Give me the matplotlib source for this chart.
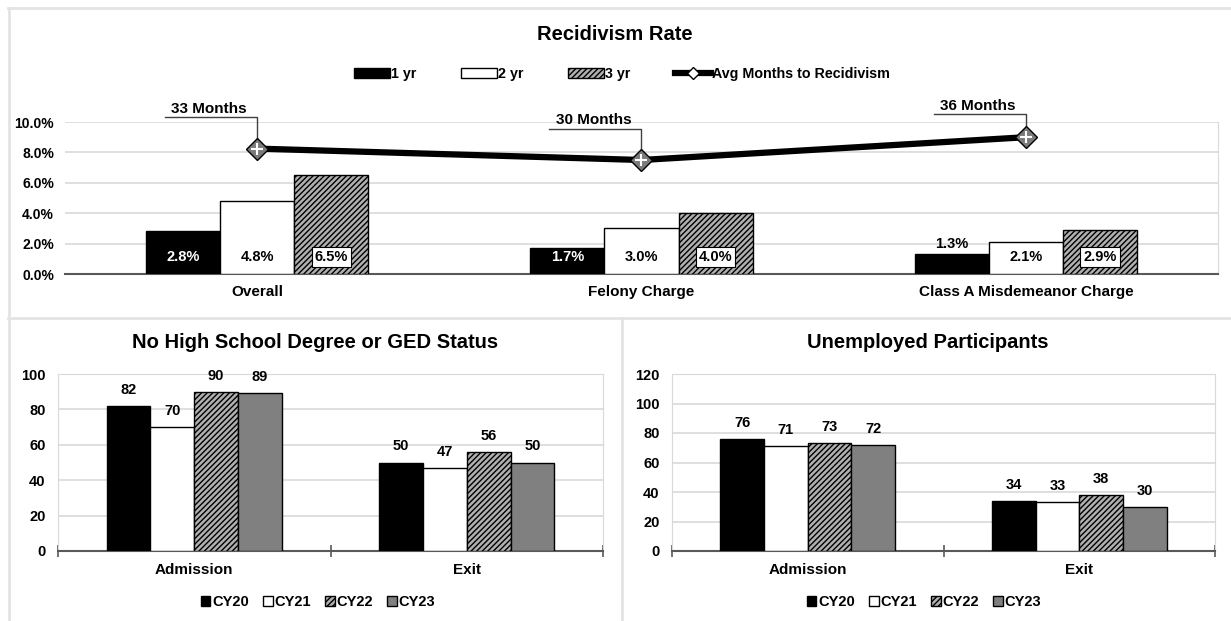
import numpy as np
import matplotlib
matplotlib.use("Agg")
import matplotlib.pyplot as plt
from matplotlib.patches import Patch
from matplotlib.lines import Line2D

plt.rcParams['font.family'] = ['Liberation Sans', 'DejaVu Sans']
plt.rcParams['font.weight'] = 'bold'
plt.rcParams['hatch.linewidth'] = 1.0

# recidivism data
charges = ["Overall", "Felony Charge", "Class A Misdemeanor Charge"]
rate_1yr = [2.8, 1.7, 1.3]
rate_2yr = [4.8, 3.0, 2.1]
rate_3yr = [6.5, 4.0, 2.9]
avg_months = [33, 30, 36]

# participant counts
stages = ["Admission", "Exit"]
years = ["CY20", "CY21", "CY22", "CY23"]
no_hs = {"CY20": [82, 50], "CY21": [70, 47], "CY22": [90, 56], "CY23": [89, 50]}
unemployed = {"CY20": [76, 34], "CY21": [71, 33], "CY22": [73, 38], "CY23": [72, 30]}

W, H = 1231, 621
fig = plt.figure(figsize=(W / 100, H / 100), dpi=100, facecolor='white')

def px(x0, y0, x1, y1):
    # pixel box -> figure fraction rect
    return [x0 / W, 1 - y1 / H, (x1 - x0) / W, (y1 - y0) / H]

GRID = '#d9d9d9'
AXIS = '#595959'
HATCH_FC = '#b0b0b0'

# panel frames
for xs, ys in [([8, W], [8, 8]), ([9, 9], [8, H]), ([8, W], [318, 318]), ([622, 622], [318, H])]:
    fig.add_artist(Line2D([x / W for x in xs], [1 - y / H for y in ys],
                          transform=fig.transFigure, color='#e3e3e3', lw=2))

# ---------- top: recidivism rate ----------
ax = fig.add_axes(px(65, 122, 1218, 274))
x = np.arange(len(charges))
bw = 0.193
styles = [dict(color='black', edgecolor='black'),
          dict(color='white', edgecolor='black'),
          dict(color=HATCH_FC, edgecolor='black', hatch='//////')]
series = [rate_1yr, rate_2yr, rate_3yr]
names = ["1 yr", "2 yr", "3 yr"]
for k, (vals, st) in enumerate(zip(series, styles)):
    bars = ax.bar(x + (k - 1) * bw, vals, bw, linewidth=1, zorder=3, **st)
    for b, v in zip(bars, vals):
        cx = b.get_x() + b.get_width() / 2
        lbl = f"{v:.1f}%"
        if v < 1.5:
            ax.annotate(lbl, (cx, v), xytext=(0, 2), textcoords='offset points',
                        ha='center', va='bottom', fontsize=10.5, zorder=5)
        elif k == 0:
            ax.annotate(lbl, (cx, 0), xytext=(0, 12), textcoords='offset points',
                        ha='center', va='center', fontsize=10.5, color='white', zorder=5)
        elif k == 1:
            ax.annotate(lbl, (cx, 0), xytext=(0, 12), textcoords='offset points',
                        ha='center', va='center', fontsize=10.5, zorder=5)
        else:
            ax.annotate(lbl, (cx, 0), xytext=(0, 12), textcoords='offset points',
                        ha='center', va='center', fontsize=10.5, zorder=5,
                        bbox=dict(boxstyle='square,pad=0.2', fc='white', ec='black', lw=0.8))

ax.set_xlim(-0.5, len(charges) - 0.5)
ax.set_ylim(0, 10)
ax.set_yticks(np.arange(0, 10.1, 2))
ax.yaxis.set_major_formatter(lambda v, p: f"{v:.1f}%")
ax.set_xticks(x)
ax.set_xticklabels(charges, fontsize=11)
ax.tick_params(axis='both', length=0)
ax.tick_params(axis='y', labelsize=10, pad=8)
ax.tick_params(axis='x', pad=8)
ax.grid(axis='y', color=GRID, lw=1.2, zorder=0)
for s in ['left', 'top']:
    ax.spines[s].set_visible(False)
ax.spines['right'].set_color(GRID)
ax.spines['bottom'].set_color(AXIS)
ax.spines['bottom'].set_linewidth(1.5)
ax.set_facecolor('none')

# months on a hidden secondary axis
ax2 = ax.twinx()
ax2.set_ylim(0, 40)
ax2.axis('off')
ax2.plot(x, avg_months, color='black', lw=4.5, zorder=4, solid_capstyle='butt')
ax2.plot(x, avg_months, ls='none', marker='D', ms=11, mfc='#7a7a7a', mec='black', mew=1, zorder=5)
ax2.plot(x, avg_months, ls='none', marker='+', ms=9, mec='white', mew=1.5, zorder=6)
lift = [8.2, 8.2, 6.0]
for xi, m, d in zip(x, avg_months, lift):
    ax2.plot([xi - 0.24, xi, xi], [m + d, m + d, m], color='#404040', lw=1, zorder=3,
             clip_on=False)
    ax2.text(xi - 0.125, m + d + 0.5, f"{m} Months", ha='center', va='bottom', fontsize=11)

fig.text(615 / W, 1 - 35 / H, "Recidivism Rate", ha='center', va='center', fontsize=14.5)
handles = [Patch(fc='black', ec='black'),
           Patch(fc='white', ec='black'),
           Patch(fc=HATCH_FC, ec='black', hatch='//////'),
           Line2D([], [], color='black', lw=4.5, marker='D', ms=6, mfc='white', mec='black')]
fig.legend(handles, names + ["Avg Months to Recidivism"], loc='center',
           bbox_to_anchor=(622 / W, 1 - 74 / H), ncol=4, frameon=False, fontsize=10.3,
           handlelength=2.5, handleheight=0.7, handletextpad=0.1, columnspacing=3.1)

# ---------- bottom: CY comparisons ----------
cy_styles = [dict(color='black', edgecolor='black'),
             dict(color='white', edgecolor='black'),
             dict(color=HATCH_FC, edgecolor='black', hatch='//////'),
             dict(color='#808080', edgecolor='black')]

def cy_chart(rect, data, ymax, title, title_x, legend_x):
    a = fig.add_axes(rect)
    xs = np.arange(len(stages))
    w = 0.161
    for k, (yr, st) in enumerate(zip(years, cy_styles)):
        vals = data[yr]
        bars = a.bar(xs + (k - 1.5) * w, vals, w, linewidth=1, zorder=3, **st)
        for b, v in zip(bars, vals):
            a.annotate(str(v), (b.get_x() + b.get_width() / 2, v), xytext=(0, 6.5),
                       textcoords='offset points', ha='center', va='bottom', fontsize=10.5)
    a.set_xlim(-0.5, len(stages) - 0.5)
    a.set_ylim(0, ymax)
    a.set_yticks(np.arange(0, ymax + 1, 20))
    a.set_xticks(xs)
    a.set_xticklabels(stages, fontsize=11)
    a.set_xticks([-0.5, 0.5, 1.5], minor=True)
    a.tick_params(axis='both', which='major', length=0)
    a.tick_params(axis='x', which='major', pad=9)
    a.tick_params(axis='y', labelsize=10.5, pad=9)
    a.tick_params(axis='x', which='minor', direction='inout', length=9, width=1.2, color=AXIS)
    a.grid(axis='y', color=GRID, lw=1.2, zorder=0)
    for s in ['left', 'top', 'right']:
        a.spines[s].set_color(GRID)
    a.spines['bottom'].set_color(AXIS)
    a.spines['bottom'].set_linewidth(1.5)
    fig.text(title_x / W, 1 - 342 / H, title, ha='center', va='center', fontsize=14.5)
    hs = [Patch(**{('fc' if kk == 'color' else 'ec' if kk == 'edgecolor' else kk): vv
                   for kk, vv in st.items()}) for st in cy_styles]
    fig.legend(hs, years, loc='center', bbox_to_anchor=(legend_x / W, 1 - 602 / H),
               ncol=4, frameon=False, fontsize=10.5, handlelength=0.65, handleheight=0.65,
               handletextpad=0.1, columnspacing=1.0)
    return a

cy_chart(px(58, 374, 603, 551), no_hs, 100, "No High School Degree or GED Status", 315, 318)
cy_chart(px(672, 374, 1215, 551), unemployed, 120, "Unemployed Participants", 928, 924)

fig.savefig("out.png", dpi=100, facecolor='white')
